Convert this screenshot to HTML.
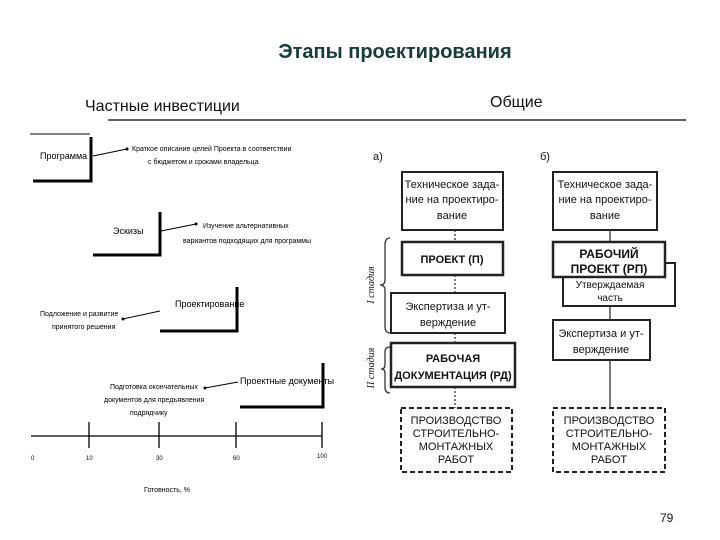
<!DOCTYPE html>
<html><head><meta charset="utf-8"><style>
body{margin:0;width:720px;height:540px;background:#fff;overflow:hidden}
svg{display:block}
</style></head><body>
<svg width="720" height="540" xmlns="http://www.w3.org/2000/svg" font-family="Liberation Sans, sans-serif">
<text x="395" y="58" text-anchor="middle" font-size="20" font-weight="bold" fill="#163c3c">Этапы проектирования</text>
<text x="85" y="111" font-size="16" fill="#111">Частные инвестиции</text>
<text x="490" y="107" font-size="16" fill="#111">Общие</text>
<line x1="108" y1="120" x2="686" y2="120" stroke="#000" stroke-width="1.2"/>
<text x="660" y="522" font-size="12" fill="#111">79</text>

<!-- left diagram -->
<g stroke="#000" fill="none">
<line x1="30" y1="134" x2="90" y2="134" stroke-width="1"/>
<polyline points="91,137 91,181 33,181" stroke-width="3"/>
<polyline points="160,212 160,255 93,255" stroke-width="3"/>
<polyline points="237,287 237,331 160,331" stroke-width="3"/>
<polyline points="323,363 323,407 240,407" stroke-width="3"/>
<line x1="93" y1="156" x2="127" y2="149" stroke-width="1"/>
<line x1="161" y1="231" x2="196" y2="224" stroke-width="1"/>
<line x1="160" y1="311" x2="123" y2="319" stroke-width="1"/>
<line x1="205" y1="388" x2="238" y2="382" stroke-width="1"/>
<line x1="31" y1="436" x2="322" y2="436" stroke-width="1.3"/>
<line x1="89" y1="422" x2="89" y2="448" stroke-width="1.3"/>
<line x1="159" y1="422" x2="159" y2="448" stroke-width="1.3"/>
<line x1="236" y1="422" x2="236" y2="448" stroke-width="1.3"/>
<line x1="322" y1="422" x2="322" y2="448" stroke-width="1.3"/>
</g>
<g fill="#000" font-size="7">
<circle cx="127" cy="149" r="1.5"/><circle cx="196" cy="224" r="1.5"/><circle cx="123" cy="319" r="1.5"/><circle cx="205" cy="388" r="1.5"/>
<text x="40" y="159" font-size="9">Программа</text>
<text x="132" y="151">Краткое описание целей Проекта в соответствии</text>
<text x="148" y="164">с бюджетом и сроками владельца</text>
<text x="203" y="228">Изучение альтернативных</text>
<text x="183" y="243">вариантов подходящих для программы</text>
<text x="113" y="234" font-size="9">Эскизы</text>
<text x="175" y="307" font-size="9">Проектирование</text>
<text x="40" y="316">Подложение и развитие</text>
<text x="52" y="329">принятого решения</text>
<text x="240" y="384" font-size="9">Проектные документы</text>
<text x="110" y="389">Подготовка окончательных</text>
<text x="104" y="402">документов для предъявления</text>
<text x="130" y="415">подрядчику</text>
<text x="31" y="460" font-size="6">0</text>
<text x="86" y="460" font-size="6">10</text>
<text x="156" y="460" font-size="6">30</text>
<text x="233" y="460" font-size="6">60</text>
<text x="317" y="458" font-size="6">100</text>
<text x="144" y="492">Готовность, %</text>
</g>

<!-- right diagram -->
<g font-size="11" fill="#111">
<text x="373" y="160">а)</text>
<text x="540" y="160">б)</text>
</g>
<g stroke="#222" fill="#fff" stroke-width="2">
<rect x="402" y="172" width="101" height="58"/>
<rect x="402" y="242" width="101" height="33" stroke-width="2.5"/>
<rect x="391" y="293" width="114" height="40"/>
<rect x="391" y="343" width="124" height="44" stroke-width="2.5"/>
<rect x="401" y="408" width="111" height="64" stroke-dasharray="5,3"/>
<rect x="553" y="172" width="104" height="58"/>
<rect x="563" y="263" width="112" height="43"/>
<rect x="553" y="242" width="112" height="35" stroke-width="2.5"/>
<rect x="553" y="320" width="97" height="40"/>
<rect x="553" y="408" width="112" height="64" stroke-dasharray="5,3"/>
</g>
<g stroke="#333" fill="none" stroke-width="1.3">
<line x1="455" y1="230" x2="455" y2="242" stroke-dasharray="2,2"/>
<line x1="455" y1="275" x2="455" y2="293" stroke-dasharray="2,2"/>
<line x1="455" y1="333" x2="455" y2="343" stroke-dasharray="2,2"/>
<line x1="455" y1="387" x2="455" y2="408" stroke-dasharray="2,2"/>
<line x1="610" y1="230" x2="610" y2="242"/>
<line x1="610" y1="306" x2="610" y2="320"/>
<line x1="610" y1="360" x2="610" y2="408"/>
<path d="M390,238 Q385,238 385,245 L385,280 Q385,285 380,285 Q385,285 385,290 L385,326 Q385,333 390,333"/>
<path d="M390,347 Q385,347 385,352 L385,365 Q385,369 381,369 Q385,369 385,373 L385,387 Q385,393 390,393"/>
</g>
<g fill="#111" font-size="11" text-anchor="middle">
<text x="452" y="188">Техническое зада-</text>
<text x="452" y="203">ние на проектиро-</text>
<text x="452" y="219">вание</text>
<text x="452" y="263" font-weight="bold">ПРОЕКТ (П)</text>
<text x="448" y="310">Экспертиза и ут-</text>
<text x="448" y="326">верждение</text>
<text x="453" y="362" font-weight="bold">РАБОЧАЯ</text>
<text x="453" y="379" font-weight="bold">ДОКУМЕНТАЦИЯ (РД)</text>
<text x="456" y="424">ПРОИЗВОДСТВО</text>
<text x="456" y="437">СТРОИТЕЛЬНО-</text>
<text x="456" y="450">МОНТАЖНЫХ</text>
<text x="456" y="463">РАБОТ</text>
<text x="605" y="188">Техническое зада-</text>
<text x="605" y="203">ние на проектиро-</text>
<text x="605" y="219">вание</text>
<text x="609" y="258" font-weight="bold" font-size="12">РАБОЧИЙ</text>
<text x="609" y="273" font-weight="bold" font-size="12">ПРОЕКТ (РП)</text>
<text x="610" y="288" font-size="10">Утверждаемая</text>
<text x="610" y="301" font-size="10">часть</text>
<text x="601" y="337">Экспертиза и ут-</text>
<text x="601" y="353">верждение</text>
<text x="609" y="424">ПРОИЗВОДСТВО</text>
<text x="609" y="437">СТРОИТЕЛЬНО-</text>
<text x="609" y="450">МОНТАЖНЫХ</text>
<text x="609" y="463">РАБОТ</text>
<text transform="translate(374,285) rotate(-90)" font-size="10" font-style="italic" font-family="Liberation Serif, serif">I  стадия</text>
<text transform="translate(374,368) rotate(-90)" font-size="10" font-style="italic" font-family="Liberation Serif, serif">II стадия</text>
</g>
</svg>
</body></html>
